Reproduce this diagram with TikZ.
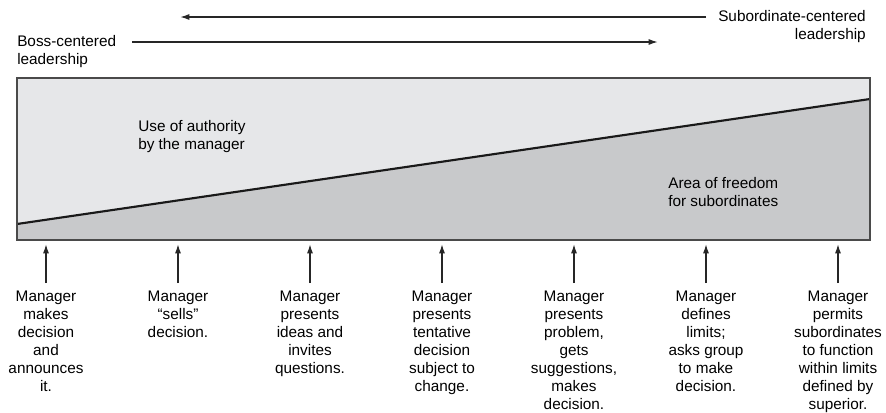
\documentclass[tikz,border=0pt]{standalone}
\usepackage{fontspec}
\setmainfont{Liberation Sans}
\usetikzlibrary{arrows.meta,positioning}

\definecolor{authgray}{HTML}{E6E7E9}
\definecolor{freegray}{HTML}{C8C9CB}
\definecolor{edgegray}{HTML}{4A4A4A}

\tikzset{
  lbl/.style={inner sep=0pt, font=\fontsize{11.5}{13.5}\selectfont},
  lead/.style={line width=1.1pt, black!85, -{Latex[length=7pt,width=4.5pt]}},
  tick/.style={line width=1.1pt, black!85, -{Latex[length=7pt,width=4.5pt]}},
}

\begin{document}
\begin{tikzpicture}[x=0.75pt,y=-0.75pt]
  \useasboundingbox (0,0) rectangle (886,412);

  % Range arrows at the top
  \node[lbl, align=right, anchor=north east] (sub) at (866,10) {Subordinate-centered\\leadership};
  \coordinate (subtail) at (706,17);
  \coordinate (subtip) at (180,17);
  \draw[lead] (subtail) -- (subtip);

  \node[lbl, align=left, anchor=north west] (boss) at (17,35) {Boss-centered\\leadership};
  \coordinate (bosstail) at (132,42);
  \coordinate (bosstip) at (658,42);
  \draw[lead] (bosstail) -- (bosstip);

  % Box split by the diagonal
  \coordinate (box-nw) at (17,78);
  \coordinate (box-se) at (870,240);
  \coordinate (split-w) at (17,224);
  \coordinate (split-e) at (870,99);
  \fill[authgray] (box-nw) rectangle (box-se);
  \fill[freegray] (split-w) -- (split-e) -- (box-se) -- (box-se -| split-w) -- cycle;
  \draw[line width=1.6pt, black!90] (split-w) -- (split-e);
  \draw[line width=1.3pt, edgegray] (box-nw) rectangle (box-se);

  \node[lbl, align=left, anchor=north west] (auth) at (138,120) {Use of authority\\by the manager};
  \node[lbl, align=left, anchor=north west] (free) at (668,177) {Area of freedom\\for subordinates};

  % Behaviour columns
  \coordinate (tipline) at (0,244);
  \foreach \txt [count=\i] in {
      {Manager\\makes\\decision\\and\\announces\\it.},
      {Manager\\``sells''\\decision.},
      {Manager\\presents\\ideas and\\invites\\questions.},
      {Manager\\presents\\tentative\\decision\\subject to\\change.},
      {Manager\\presents\\problem,\\gets\\suggestions,\\makes\\decision.},
      {Manager\\defines\\limits;\\asks group\\to make\\decision.},
      {Manager\\permits\\subordinates\\to function\\within limits\\defined by\\superior.}} {
    \node[lbl, align=center, anchor=north] (m\i) at ({46+132*(\i-1)},291) {\txt};
    \draw[tick] ([yshift=6pt]m\i.north) -- (m\i.north |- tipline);
  }
\end{tikzpicture}
\end{document}
